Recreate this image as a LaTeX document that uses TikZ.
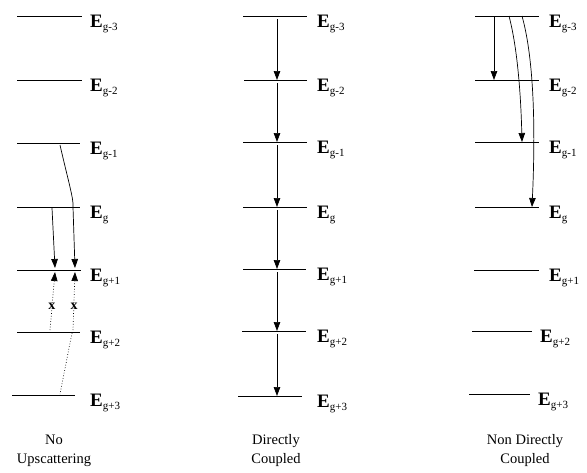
\documentclass[tikz,border=0pt]{standalone}
\usepackage{fontspec}
\setmainfont{Liberation Serif}
\usetikzlibrary{arrows.meta}
\newcommand{\lev}[1]{{\fontsize{19}{19}\selectfont\bfseries E}\raisebox{-3pt}{\fontsize{11}{11}\selectfont #1}}
\tikzset{
  level/.style={line width=0.8pt},
  arr/.style={line width=0.7pt,-{Triangle[length=9pt,width=6.5pt]}},
  uparr/.style={line width=0.7pt,dotted,-{Triangle[length=9pt,width=6.5pt]}},
  dots/.style={line width=0.7pt,dotted},
  lab/.style={anchor=base west,inner sep=0pt},
  captxt/.style={align=center,font=\fontsize{14.5}{19}\selectfont,inner sep=0pt},
  xmark/.style={font=\fontsize{14}{14}\selectfont\bfseries,inner sep=0pt}
}
\begin{document}
\begin{tikzpicture}[x=1pt,y=-1pt]
\useasboundingbox (0,0) rectangle (587,472);
% ---------- left column: No Upscattering ----------
\foreach \y/\a/\b/\t [count=\i] in {16/17/82/g-3,80/17/82/g-2,143/17/80/g-1,207/17/80/g,270/17/81/g+1,332/17/80/g+2,395/12/75/g+3}{
  \draw[level] (\a,\y) -- (\b,\y);
  \node[lab] (Ll\i) at (90,\y+11) {\lev{\t}};
}
\coordinate (La) at (60,145);
\coordinate (Lb) at (73,207);
\coordinate (Lc) at (75,268);
\coordinate (Ld) at (52,208);
\coordinate (Le) at (55,268);
\draw[arr] (La) .. controls (68,180) and (74,200) .. (Lb) -- (Lc);
\draw[arr] (Ld) -- (Le);
\coordinate (Lf) at (50,330);
\coordinate (Lg) at (55,272);
\coordinate (Lh) at (73,330);
\coordinate (Li) at (75,272);
\draw[uparr] (Lf) -- (Lg);
\draw[uparr] (Lh) -- (Li);
\node[xmark] (X1) at (52,306) {x};
\node[xmark] (X2) at (74,306) {x};
\coordinate (Lj) at (72,333);
\coordinate (Lk) at (60,394);
\draw[dots] (Lj) -- (Lk);
\node[captxt] (C1) at (54,451) {No\\Upscattering};
% ---------- middle column: Directly Coupled ----------
\foreach \y/\a/\b/\t [count=\i] in {16/243/307/g-3,80/244/307/g-2,142/243/307/g-1,207/243/307/g,269/243/306/g+1,331/242/306/g+2,396/238/302/g+3}{
  \draw[level] (\a,\y) -- (\b,\y);
  \node[lab] (Ml\i) at (317,\y+11) {\lev{\t}};
  \coordinate (M\i) at (277,\y);
}
\foreach \i/\j in {1/2,2/3,3/4,4/5,5/6,6/7}{
  \draw[arr] ([yshift=-3pt]M\i) -- (M\j);
}
\node[captxt] (C2) at (276,451) {Directly\\Coupled};
% ---------- right column: Non Directly Coupled ----------
\foreach \y/\a/\b/\x/\t [count=\i] in {16/475/539/549/g-3,80/475/539/549/g-2,142/475/539/549/g-1,207/475/539/549/g,270/474/539/549/g+1,331/472/532/540/g+2,394/469/530/538/g+3}{
  \draw[level] (\a,\y) -- (\b,\y);
  \node[lab] (Rl\i) at (\x,\y+11) {\lev{\t}};
}
\coordinate (Ra) at (494,16);
\coordinate (Rb) at (494,80);
\coordinate (Rc) at (509,16);
\coordinate (Rd) at (522,142);
\coordinate (Re) at (522,16);
\coordinate (Rf) at (532,207);
\draw[arr] (Ra) -- (Rb);
\draw[arr] (Rc) .. controls (518,50) and (521,100) .. (Rd);
\draw[arr] (Re) .. controls (533,55) and (536,120) .. (Rf);
\node[captxt] (C3) at (525,451) {Non Directly\\Coupled};
\end{tikzpicture}
\end{document}
